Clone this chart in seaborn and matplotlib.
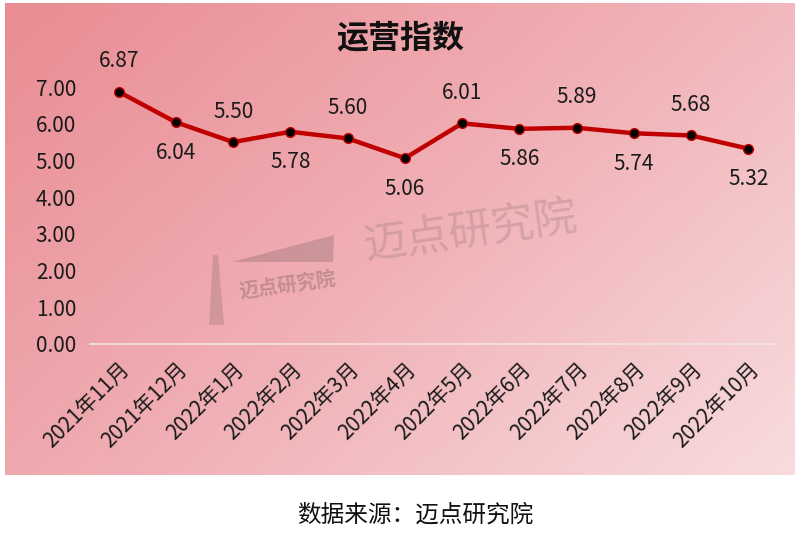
import numpy as np
import pandas as pd
import matplotlib
matplotlib.use("Agg")
import matplotlib.pyplot as plt
import seaborn as sns
from matplotlib.colors import LinearSegmentedColormap
from matplotlib.patches import Polygon

months = ["2021年11月", "2021年12月", "2022年1月", "2022年2月", "2022年3月", "2022年4月",
          "2022年5月", "2022年6月", "2022年7月", "2022年8月", "2022年9月", "2022年10月"]
values = [6.87, 6.04, 5.50, 5.78, 5.60, 5.06, 6.01, 5.86, 5.89, 5.74, 5.68, 5.32]
yticks = [0, 1, 2, 3, 4, 5, 6, 7]

sns.set_theme(style="white")
plt.rcParams['font.family'] = ['Noto Sans CJK SC', 'DejaVu Sans']

fig = plt.figure(figsize=(8, 5.36), dpi=100)

# gradient background panel
bg = fig.add_axes([5/800, 1 - 475/536, 790/800, 472/536], zorder=0)
h, w = 200, 300
yy, xx = np.mgrid[0:1:h*1j, 0:1:w*1j]
t = (xx * 0.6 + yy * 0.4)
cmap = LinearSegmentedColormap.from_list("bg", ["#e98c93", "#f0b0b5", "#f8dcde"])
bg.imshow(t, cmap=cmap, aspect="auto", extent=[0, 1, 0, 1], origin="upper")
bg.set_xlim(0, 1)
bg.set_ylim(0, 1)
bg.set_axis_off()

def fx(px):
    return (px - 5) / 790

def fy(py):
    return (475 - py) / 472

# watermark
bg.text(fx(470), fy(232), "迈点研究院", fontsize=31, color="#8a6e70", alpha=0.28,
        rotation=8, ha="center", va="center", transform=bg.transAxes, fontweight="light")
bg.text(fx(288), fy(285), "迈点研究院", fontsize=14, color="#6e5456", alpha=0.35,
        rotation=8, ha="center", va="center", transform=bg.transAxes, fontweight="bold")
wedge = Polygon([(fx(232), fy(262)), (fx(334), fy(235)), (fx(333), fy(262))],
                closed=True, transform=bg.transAxes, facecolor="#7a5f61", alpha=0.3,
                edgecolor="none")
bg.add_patch(wedge)
tower = Polygon([(fx(209), fy(325)), (fx(213), fy(255)), (fx(218), fy(255)), (fx(224), fy(325))],
                closed=True, transform=bg.transAxes, facecolor="#7a5f61", alpha=0.25,
                edgecolor="none")
bg.add_patch(tower)

ax = fig.add_axes([90/800, 1 - 344/536, 687/800, 257/536], zorder=2)
ax.patch.set_alpha(0)
df = pd.DataFrame({"month": months, "value": values})
df["x"] = np.arange(len(months))
sns.lineplot(data=df, x="x", y="value", ax=ax, color="#c00000", linewidth=3.2,
             marker="o", markersize=7, markerfacecolor="black",
             markeredgecolor="#c00000", markeredgewidth=1, clip_on=False)

for i, (xv, v) in enumerate(zip(df["x"], values)):
    off = 22 if i % 2 == 0 else -22
    ax.annotate(f"{v:.2f}", (xv, v), xytext=(0, off), textcoords="offset points",
                ha="center", va="center", fontsize=15, color="#1a1a1a")

ax.set_xlim(-0.5, len(months) - 0.5)
ax.set_ylim(0, 7)
ax.set_yticks(yticks)
ax.set_yticklabels([f"{v:.2f}" for v in yticks], fontsize=15, color="#1a1a1a")
ax.set_xticks(df["x"])
ax.set_xticklabels(months, rotation=45, ha="right", rotation_mode="anchor",
                   fontsize=15, color="#1a1a1a")
ax.set_xticks(np.arange(-0.5, len(months)), minor=True)
ax.tick_params(axis="x", which="major", length=0, pad=10)
ax.tick_params(axis="x", which="minor", direction="in", length=6, width=1, color="#f3e3e3")
ax.tick_params(axis="y", length=0, pad=10)
ax.set_xlabel("")
ax.set_ylabel("")
for s in ["top", "right", "left"]:
    ax.spines[s].set_visible(False)
ax.spines["bottom"].set_color("#f3e3e3")
ax.spines["bottom"].set_linewidth(1.2)
ax.grid(False)

fig.text(0.5, 1 - 38/536, "运营指数", ha="center", va="center", fontsize=23,
         fontweight="bold", color="#111111")
fig.text(415/800, 1 - 515/536, "数据来源：迈点研究院", ha="center", va="center",
         fontsize=17, color="#111111")

fig.savefig("out.png", dpi=100)
